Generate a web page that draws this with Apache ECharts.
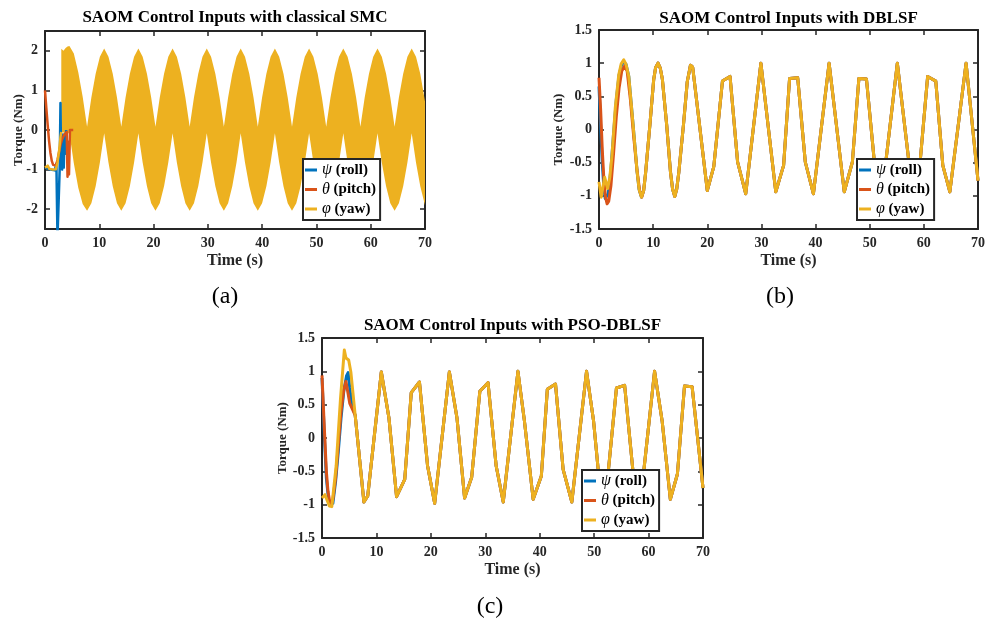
<!DOCTYPE html>
<html>
<head>
<meta charset="utf-8">
<script src="https://cdn.jsdelivr.net/npm/echarts@6.0.0/dist/echarts.min.js"></script>
<style>
  html, body { margin: 0; padding: 0; background: #fff; }
  #chart { width: 987px; height: 624px; }
</style>
</head>
<body>
<div id="chart"></div>
<script>
  // series names / colours (MATLAB default order)
  const names = ['ψ (roll)', 'θ (pitch)', 'φ (yaw)']
  const colors = ['#0072BD', '#D95319', '#EDB120']
  const titles = [
    'SAOM Control Inputs with classical SMC',
    'SAOM Control Inputs with DBLSF',
    'SAOM Control Inputs with PSO-DBLSF'
  ]
  const panelLabels = ['(a)', '(b)', '(c)']
  const xTicks = [0, 70, 10]

  // ---- (a) classical SMC : [time, torque] ----
  const rollA = [[0, -0.95], [1.0, -1.0], [1.8, -1.02], [2.1, -0.85], [2.3, -2.7], [2.55, -2.7], [2.7, -1.0],
    [2.85, 0.68], [2.95, -0.6], [3.05, -0.1], [3.15, -1.0], [3.3, -0.15], [3.45, -0.95], [3.6, -0.1],
    [3.75, -0.6], [3.9, 0.0]]
  const pitchA = [[0, 1.0], [0.25, 0.55], [0.5, 0.12], [0.75, -0.28], [1.0, -0.58], [1.25, -0.78], [1.5, -0.88],
    [1.75, -0.93], [2.0, -0.9], [2.3, -0.76], [2.6, -0.55], [2.9, -0.35], [3.2, -0.22], [3.5, -0.13],
    [3.8, -0.08], [4.0, -0.05], [4.15, -1.18], [4.3, -0.3], [4.42, -1.12], [4.6, 0.0], [4.9, 0.04], [5.2, 0.0]]
  const yawA = [[0, -0.95], [0.25, -0.97], [0.5, -0.9], [0.8, -0.98], [1.1, -1.02], [1.4, -1.0], [1.7, -1.04],
    [2.0, -0.99], [2.3, -0.82], [2.6, -0.52], [2.85, -0.18], [3.0, -0.05]]
  // chattering yaw input: upper / lower envelope of the filled band
  const bandT = [3.0, 3.4, 3.8, 4.15, 4.5, 5.31, 6.13, 6.94, 7.75,
    8.54, 9.33, 10.11, 10.9, 11.69, 12.48, 13.26, 14.05,
    14.84, 15.63, 16.41, 17.2, 17.99, 18.78, 19.56, 20.35,
    21.14, 21.93, 22.71, 23.5, 24.29, 25.08, 25.86, 26.65,
    27.44, 28.23, 29.01, 29.8, 30.59, 31.38, 32.16, 32.95,
    33.73, 34.5, 35.28, 36.05, 36.84, 37.63, 38.41, 39.2,
    39.99, 40.78, 41.56, 42.35, 43.14, 43.93, 44.71, 45.5,
    46.29, 47.08, 47.86, 48.65, 49.44, 50.23, 51.01, 51.8,
    52.59, 53.38, 54.16, 54.95, 55.74, 56.53, 57.31, 58.1,
    58.89, 59.68, 60.46, 61.25, 62.04, 62.83, 63.61, 64.4,
    65.19, 65.98, 66.76, 67.55, 68.34, 69.13, 70.0]
  const bandHi = [2.05, 2.0, 2.07, 2.11, 2.12, 1.93, 1.46, 0.84, 0.08,
    0.82, 1.42, 1.85, 2.06, 1.85, 1.42, 0.82, 0.08,
    0.82, 1.42, 1.85, 2.06, 1.85, 1.42, 0.82, 0.08,
    0.82, 1.42, 1.85, 2.06, 1.85, 1.42, 0.82, 0.08,
    0.82, 1.42, 1.85, 2.06, 1.85, 1.42, 0.82, 0.08,
    0.82, 1.42, 1.85, 2.06, 1.85, 1.42, 0.82, 0.08,
    0.82, 1.42, 1.85, 2.06, 1.85, 1.42, 0.82, 0.08,
    0.82, 1.42, 1.85, 2.06, 1.85, 1.42, 0.82, 0.08,
    0.82, 1.42, 1.85, 2.06, 1.85, 1.42, 0.82, 0.08,
    0.82, 1.42, 1.85, 2.06, 1.85, 1.42, 0.82, 0.08,
    0.82, 1.42, 1.85, 2.06, 1.85, 1.42, 0.72]
  const bandLo = [-0.05, -0.06, -0.07, -0.08, -0.08, -0.84, -1.46, -1.87, -2.04,
    -1.85, -1.42, -0.82, -0.08, -0.82, -1.42, -1.85, -2.04,
    -1.85, -1.42, -0.82, -0.08, -0.82, -1.42, -1.85, -2.04,
    -1.85, -1.42, -0.82, -0.08, -0.82, -1.42, -1.85, -2.04,
    -1.85, -1.42, -0.82, -0.08, -0.82, -1.42, -1.85, -2.04,
    -1.85, -1.42, -0.82, -0.08, -0.82, -1.42, -1.85, -2.04,
    -1.85, -1.42, -0.82, -0.08, -0.82, -1.42, -1.85, -2.04,
    -1.85, -1.42, -0.82, -0.08, -0.82, -1.42, -1.85, -2.04,
    -1.85, -1.42, -0.82, -0.08, -0.82, -1.42, -1.85, -2.04,
    -1.85, -1.42, -0.82, -0.08, -0.82, -1.42, -1.85, -2.04,
    -1.85, -1.42, -0.82, -0.08, -0.82, -1.42, -1.9]

  // ---- (b) DBLSF ----
  const yawB = [[0, -0.79], [0.4, -1.02], [1.05, -0.72], [1.6, -0.89], [2.0, -0.72], [2.4, -0.39], [3.0, 0.32],
    [3.64, 0.82], [4.1, 0.99], [4.57, 1.05], [5.0, 0.98], [5.5, 0.8], [6.3, 0.07], [7.04, -0.64], [7.4, -0.9],
    [7.84, -1.02], [8.25, -0.92], [8.6, -0.66], [9.4, 0.07], [10.1, 0.75], [10.45, 0.93], [10.9, 1.0],
    [11.3, 0.93], [11.7, 0.76], [12.5, 0.07], [13.2, -0.64], [13.6, -0.9], [14.0, -1.01], [14.35, -0.9],
    [14.75, -0.64], [15.6, 0.07], [16.3, 0.72], [16.9, 0.97], [17.3, 0.94], [20.0, -0.92], [21.2, -0.56],
    [22.8, 0.73], [24.2, 0.8], [25.6, -0.49], [27.1, -0.97], [29.9, 1.0], [32.65, -0.94], [34.1, -0.54],
    [35.2, 0.77], [36.7, 0.78], [38.1, -0.49], [39.6, -0.97], [42.5, 1.0], [45.3, -0.94], [46.8, -0.49],
    [48.0, 0.77], [49.4, 0.76], [50.8, -0.44], [52.3, -0.96], [55.1, 1.0], [57.9, -0.95], [59.3, -0.5],
    [60.7, 0.8], [62.2, 0.73], [63.5, -0.54], [64.8, -0.94], [67.8, 1.0], [70, -0.77]]
  const pitchBStart = [[0, 0.78], [0.3, 0.3], [0.6, -0.3], [0.9, -0.75], [1.2, -1.02], [1.5, -1.12], [1.8, -1.08],
    [2.2, -0.85], [2.7, -0.35], [3.2, 0.2], [3.7, 0.62], [4.2, 0.88], [4.75, 0.96], [5.2, 0.88], [5.8, 0.45],
    [6.4, -0.1], [7.0, -0.6], [7.5, -0.92], [7.9, -1.02]]
  const rollBStart = [[0, 0.65], [0.3, 0.05], [0.6, -0.5], [0.9, -0.88], [1.15, -1.04], [1.4, -1.06], [1.7, -0.97],
    [2.2, -0.6], [2.7, -0.05], [3.2, 0.45], [3.7, 0.82], [4.2, 0.98], [4.6, 1.02]]

  // ---- (c) PSO-DBLSF ----
  const yawC = [[0, -0.9], [0.55, -0.85], [1.35, -1.02], [1.8, -1.03], [2.6, -0.42], [3.4, 0.59], [4.1, 1.32],
    [4.4, 1.2], [4.9, 1.17], [5.3, 0.99], [6.1, 0.34], [7.7, -0.96], [8.4, -0.87], [10.9, 0.99], [12.3, 0.3],
    [13.7, -0.88], [15.2, -0.62], [16.4, 0.68], [17.9, 0.84], [19.4, -0.42], [20.7, -0.98], [23.4, 0.99],
    [24.8, 0.3], [26.2, -0.9], [27.5, -0.59], [29.0, 0.7], [30.5, 0.83], [32.0, -0.42], [33.3, -0.96],
    [36.0, 1.0], [37.2, 0.25], [38.8, -0.92], [40.3, -0.57], [41.4, 0.73], [42.9, 0.81], [44.3, -0.47],
    [45.9, -0.96], [48.6, 1.0], [49.9, 0.25], [51.3, -0.95], [52.6, -0.5], [54.1, 0.75], [55.6, 0.79],
    [57.1, -0.47], [58.5, -0.96], [61.1, 1.0], [62.5, 0.25], [64.0, -0.92], [65.3, -0.54], [66.6, 0.78],
    [68.0, 0.77], [70, -0.75]]
  const pitchCStart = [[0, 0.94], [0.4, 0.2], [0.8, -0.5], [1.1, -0.8], [1.4, -0.95], [1.7, -1.0], [2.0, -0.92],
    [2.5, -0.6], [3.0, -0.1], [3.5, 0.4], [4.0, 0.72], [4.4, 0.85], [4.7, 0.87], [5.1, 0.52], [5.5, 0.45], [6.1, 0.34]]
  const rollCStart = [[0, 0.9], [0.4, 0.1], [0.8, -0.6], [1.2, -0.92], [1.6, -1.0], [2.0, -0.98], [2.5, -0.65],
    [3.0, -0.2], [3.5, 0.3], [4.0, 0.7], [4.5, 0.93], [4.8, 0.98], [5.1, 0.75], [5.5, 0.5], [6.1, 0.34]]

  // after the transient roll/pitch lie under the yaw curve
  const rollB = rollBStart.concat(yawB.filter(p => p[0] > 4.6))
  const pitchB = pitchBStart.concat(yawB.filter(p => p[0] > 7.9))
  const rollC = rollCStart.concat(yawC.filter(p => p[0] > 6.1))
  const pitchC = pitchCStart.concat(yawC.filter(p => p[0] > 6.1))

  const serif = 'Liberation Serif'
  const ink = '#262626'
  const grids = [
    {left: 45, top: 31, width: 380, height: 198},
    {left: 599, top: 30, width: 379, height: 199},
    {left: 322, top: 338, width: 381, height: 200}
  ]
  const yRanges = [[-2.5, 2.5, null], [-1.5, 1.5, 0.5], [-1.5, 1.5, 0.5]]
  const yNameGap = [20, 34, 33]
  const titleY = [18, 19, 326]
  const labelPos = [[225, 297], [780, 297], [490, 607]]
  const legendPos = [[303, 159], [857, 159], [582, 470]]

  function axisCommon () {
    return {
      axisLine: {onZero: false, lineStyle: {color: ink, width: 2}},
      axisTick: {inside: true, length: 5, lineStyle: {color: ink, width: 1.5}},
      splitLine: {show: false}
    }
  }

  let xAxis = []
  let yAxis = []
  grids.forEach(function (g, i) {
    xAxis.push(Object.assign(axisCommon(), {
      gridIndex: i, type: 'value', position: 'bottom',
      min: xTicks[0], max: xTicks[1], interval: xTicks[2],
      name: 'Time (s)', nameLocation: 'middle', nameGap: 24, nameMoveOverlap: false,
      nameTextStyle: {fontFamily: serif, fontWeight: 'bold', fontSize: 16, color: ink},
      axisLabel: {fontFamily: serif, fontWeight: 'bold', fontSize: 14, color: ink, margin: 7}
    }))
    xAxis.push(Object.assign(axisCommon(), {
      gridIndex: i, type: 'value', position: 'top',
      min: xTicks[0], max: xTicks[1], interval: xTicks[2],
      axisLabel: {show: false}
    }))
    let yr = yRanges[i]
    let yl = {
      gridIndex: i, type: 'value', position: 'left', min: yr[0], max: yr[1],
      name: 'Torque (Nm)', nameLocation: 'middle', nameGap: yNameGap[i], nameMoveOverlap: false,
      nameTextStyle: {fontFamily: serif, fontWeight: 'bold', fontSize: 13, color: ink},
      axisLabel: {fontFamily: serif, fontWeight: 'bold', fontSize: 14, color: ink, margin: 7,
        showMinLabel: yr[2] !== null, showMaxLabel: yr[2] !== null}
    }
    let yr2 = {gridIndex: i, type: 'value', position: 'right', min: yr[0], max: yr[1], axisLabel: {show: false}}
    if (yr[2] !== null) {
      yl.interval = yr[2]
      yr2.interval = yr[2]
    }
    yAxis.push(Object.assign(axisCommon(), yl))
    yAxis.push(Object.assign(axisCommon(), yr2))
  })

  function line (k, data, gi, width) {
    return {
      name: names[k], type: 'line', xAxisIndex: gi * 2, yAxisIndex: gi * 2, data: data,
      symbol: 'none', showSymbol: false, clip: true,
      lineStyle: {color: colors[k], width: width, join: 'round'},
      itemStyle: {color: colors[k]}
    }
  }

  // the chattering yaw band of (a): one polygon, upper envelope then lower envelope back
  function renderBand (params, api) {
    if (params.dataIndex !== 0) return null
    let pts = []
    for (let i = 0; i < bandT.length; i++) pts.push(api.coord([bandT[i], bandHi[i]]))
    for (let i = bandT.length - 1; i >= 0; i--) pts.push(api.coord([bandT[i], bandLo[i]]))
    return {type: 'polygon', shape: {points: pts}, style: {fill: colors[2]}}
  }

  let series = [
    line(0, rollA, 0, 2.5),
    line(1, pitchA, 0, 2.5),
    line(2, yawA, 0, 2.5),
    {
      name: 'band', type: 'custom', xAxisIndex: 0, yAxisIndex: 0, silent: true,
      data: bandT.map((t, i) => [t, bandLo[i], bandHi[i]]),
      encode: {x: 0, y: [1, 2]},
      renderItem: renderBand
    },
    line(0, rollB, 1, 3),
    line(1, pitchB, 1, 3),
    line(2, yawB, 1, 3),
    line(0, rollC, 2, 3),
    line(1, pitchC, 2, 3),
    line(2, yawC, 2, 3)
  ]

  let legend = legendPos.map(function (p) {
    return {
      orient: 'vertical', left: p[0], top: p[1], data: names, selectedMode: false,
      icon: 'rect', itemWidth: 12, itemHeight: 3, itemGap: 3.5,
      padding: [3, 4, 3, 2], borderColor: ink, borderWidth: 2, backgroundColor: '#fff',
      formatter: function (name) {
        return '{g|' + name.charAt(0) + '}' + name.slice(1)
      },
      textStyle: {
        fontFamily: serif, fontWeight: 'bold', fontSize: 15, color: '#000', lineHeight: 16,
        rich: {
          g: {fontFamily: serif, fontStyle: 'italic', fontWeight: 'normal', fontSize: 16, color: '#000', lineHeight: 16}
        }
      }
    }
  })

  let graphic = []
  grids.forEach(function (g, i) {
    graphic.push({
      type: 'text', x: g.left + g.width / 2, y: titleY[i],
      style: {
        text: titles[i], fontFamily: serif, fontWeight: 'bold', fontSize: 17, fill: '#000',
        align: 'center', verticalAlign: 'middle', textAlign: 'center', textVerticalAlign: 'middle'
      }
    })
    graphic.push({
      type: 'text', x: labelPos[i][0], y: labelPos[i][1],
      style: {
        text: panelLabels[i], fontFamily: serif, fontSize: 24, fill: '#000',
        align: 'center', verticalAlign: 'middle', textAlign: 'center', textVerticalAlign: 'middle'
      }
    })
  })

  let chart = echarts.init(document.getElementById('chart'))
  chart.setOption({
    animation: false,
    backgroundColor: '#fff',
    grid: grids.map(g => Object.assign({outerBoundsMode: 'none', containLabel: false}, g)),
    xAxis: xAxis,
    yAxis: yAxis,
    legend: legend,
    graphic: graphic,
    series: series
  })
</script>
</body>
</html>
